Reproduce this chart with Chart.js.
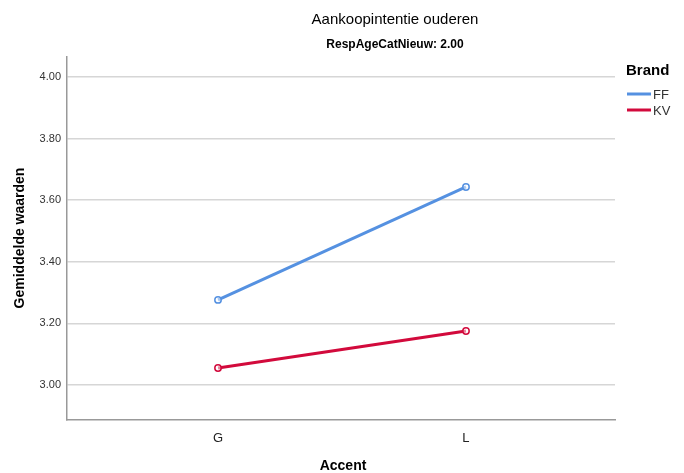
<!DOCTYPE html>
<html><head><meta charset="utf-8">
<script src="https://cdn.jsdelivr.net/npm/chart.js@4"></script>
<style>html,body{margin:0;padding:0;background:#fff}#wrap{width:684px;height:473px;position:relative}</style>
</head><body><div id="wrap"><canvas id="c" width="684" height="473"></canvas></div>
<script>
const categories = ['G', 'L'];
const seriesNames = ['FF', 'KV'];
const ffValues = [3.276, 3.643];
const kvValues = [3.055, 3.175];
const yTicks = [3.00, 3.20, 3.40, 3.60, 3.80, 4.00];
const colors = ['#5591E1', '#D20A3C'];
const FONT = '"Liberation Sans", Arial, sans-serif';

const toPts = vals => vals.map((v, i) => ({x: i, y: v}));

const overlay = {
  id: 'overlay',
  afterDraw(chart) {
    const ctx = chart.ctx;
    ctx.save();
    ctx.fillStyle = '#000';
    ctx.textAlign = 'center';
    ctx.textBaseline = 'middle';
    ctx.font = '15px ' + FONT;
    ctx.fillText('Aankoopintentie ouderen', 395, 20);
    ctx.font = 'bold 12px ' + FONT;
    ctx.fillText('RespAgeCatNieuw: 2.00', 395, 45);
    ctx.font = 'bold 14px ' + FONT;
    ctx.fillText('Accent', 343, 466);
    ctx.save();
    ctx.translate(20, 238);
    ctx.rotate(-Math.PI / 2);
    ctx.fillText('Gemiddelde waarden', 0, 0);
    ctx.restore();
    // legend
    ctx.textAlign = 'left';
    ctx.font = 'bold 15px ' + FONT;
    ctx.fillText('Brand', 626, 71);
    ctx.font = '13px ' + FONT;
    seriesNames.forEach((n, i) => {
      const y = 94 + i * 16;
      ctx.strokeStyle = colors[i];
      ctx.lineWidth = 3;
      ctx.beginPath(); ctx.moveTo(627, y); ctx.lineTo(651, y); ctx.stroke();
      ctx.fillStyle = '#333';
      ctx.fillText(n, 653, y + 1);
    });
    ctx.restore();
  }
};

new Chart(document.getElementById('c'), {
  type: 'line',
  data: {
    datasets: [ffValues, kvValues].map((vals, i) => ({
      label: seriesNames[i],
      data: toPts(vals),
      borderColor: colors[i],
      backgroundColor: 'rgba(255,255,255,0.6)',
      borderWidth: 3,
      pointRadius: 3.2,
      pointBorderWidth: 1.5,
      pointBorderColor: colors[i],
      pointBackgroundColor: 'rgba(255,255,255,0.5)',
      tension: 0
    }))
  },
  options: {
    responsive: false,
    animation: false,
    layout: {padding: {left: 0, top: 57, right: 69, bottom: 0}},
    plugins: {legend: {display: false}, title: {display: false}, tooltip: {enabled: false}},
    scales: {
      x: {
        type: 'linear',
        min: -0.609, max: 1.601,
        afterFit(s) { s.height = 53; },
        afterBuildTicks(s) { s.ticks = categories.map((c, i) => ({value: i})); },
        ticks: {
          callback: v => categories[v] ?? '',
          color: '#222', font: {family: FONT, size: 13}, padding: 11, maxRotation: 0
        },
        grid: {display: false, drawTicks: false},
        border: {display: true, color: '#999', width: 1.5}
      },
      y: {
        min: 2.886, max: 4.065,
        afterFit(s) { s.width = 67; },
        afterBuildTicks(s) { s.ticks = yTicks.map(v => ({value: v})); },
        ticks: {
          callback: v => v.toFixed(2),
          color: '#333', font: {family: FONT, size: 11}, padding: 6
        },
        grid: {color: '#d6d6d6', lineWidth: 1.5, drawTicks: false},
        border: {display: true, color: '#999', width: 1.5}
      }
    }
  },
  plugins: [overlay]
});
</script></body></html>
